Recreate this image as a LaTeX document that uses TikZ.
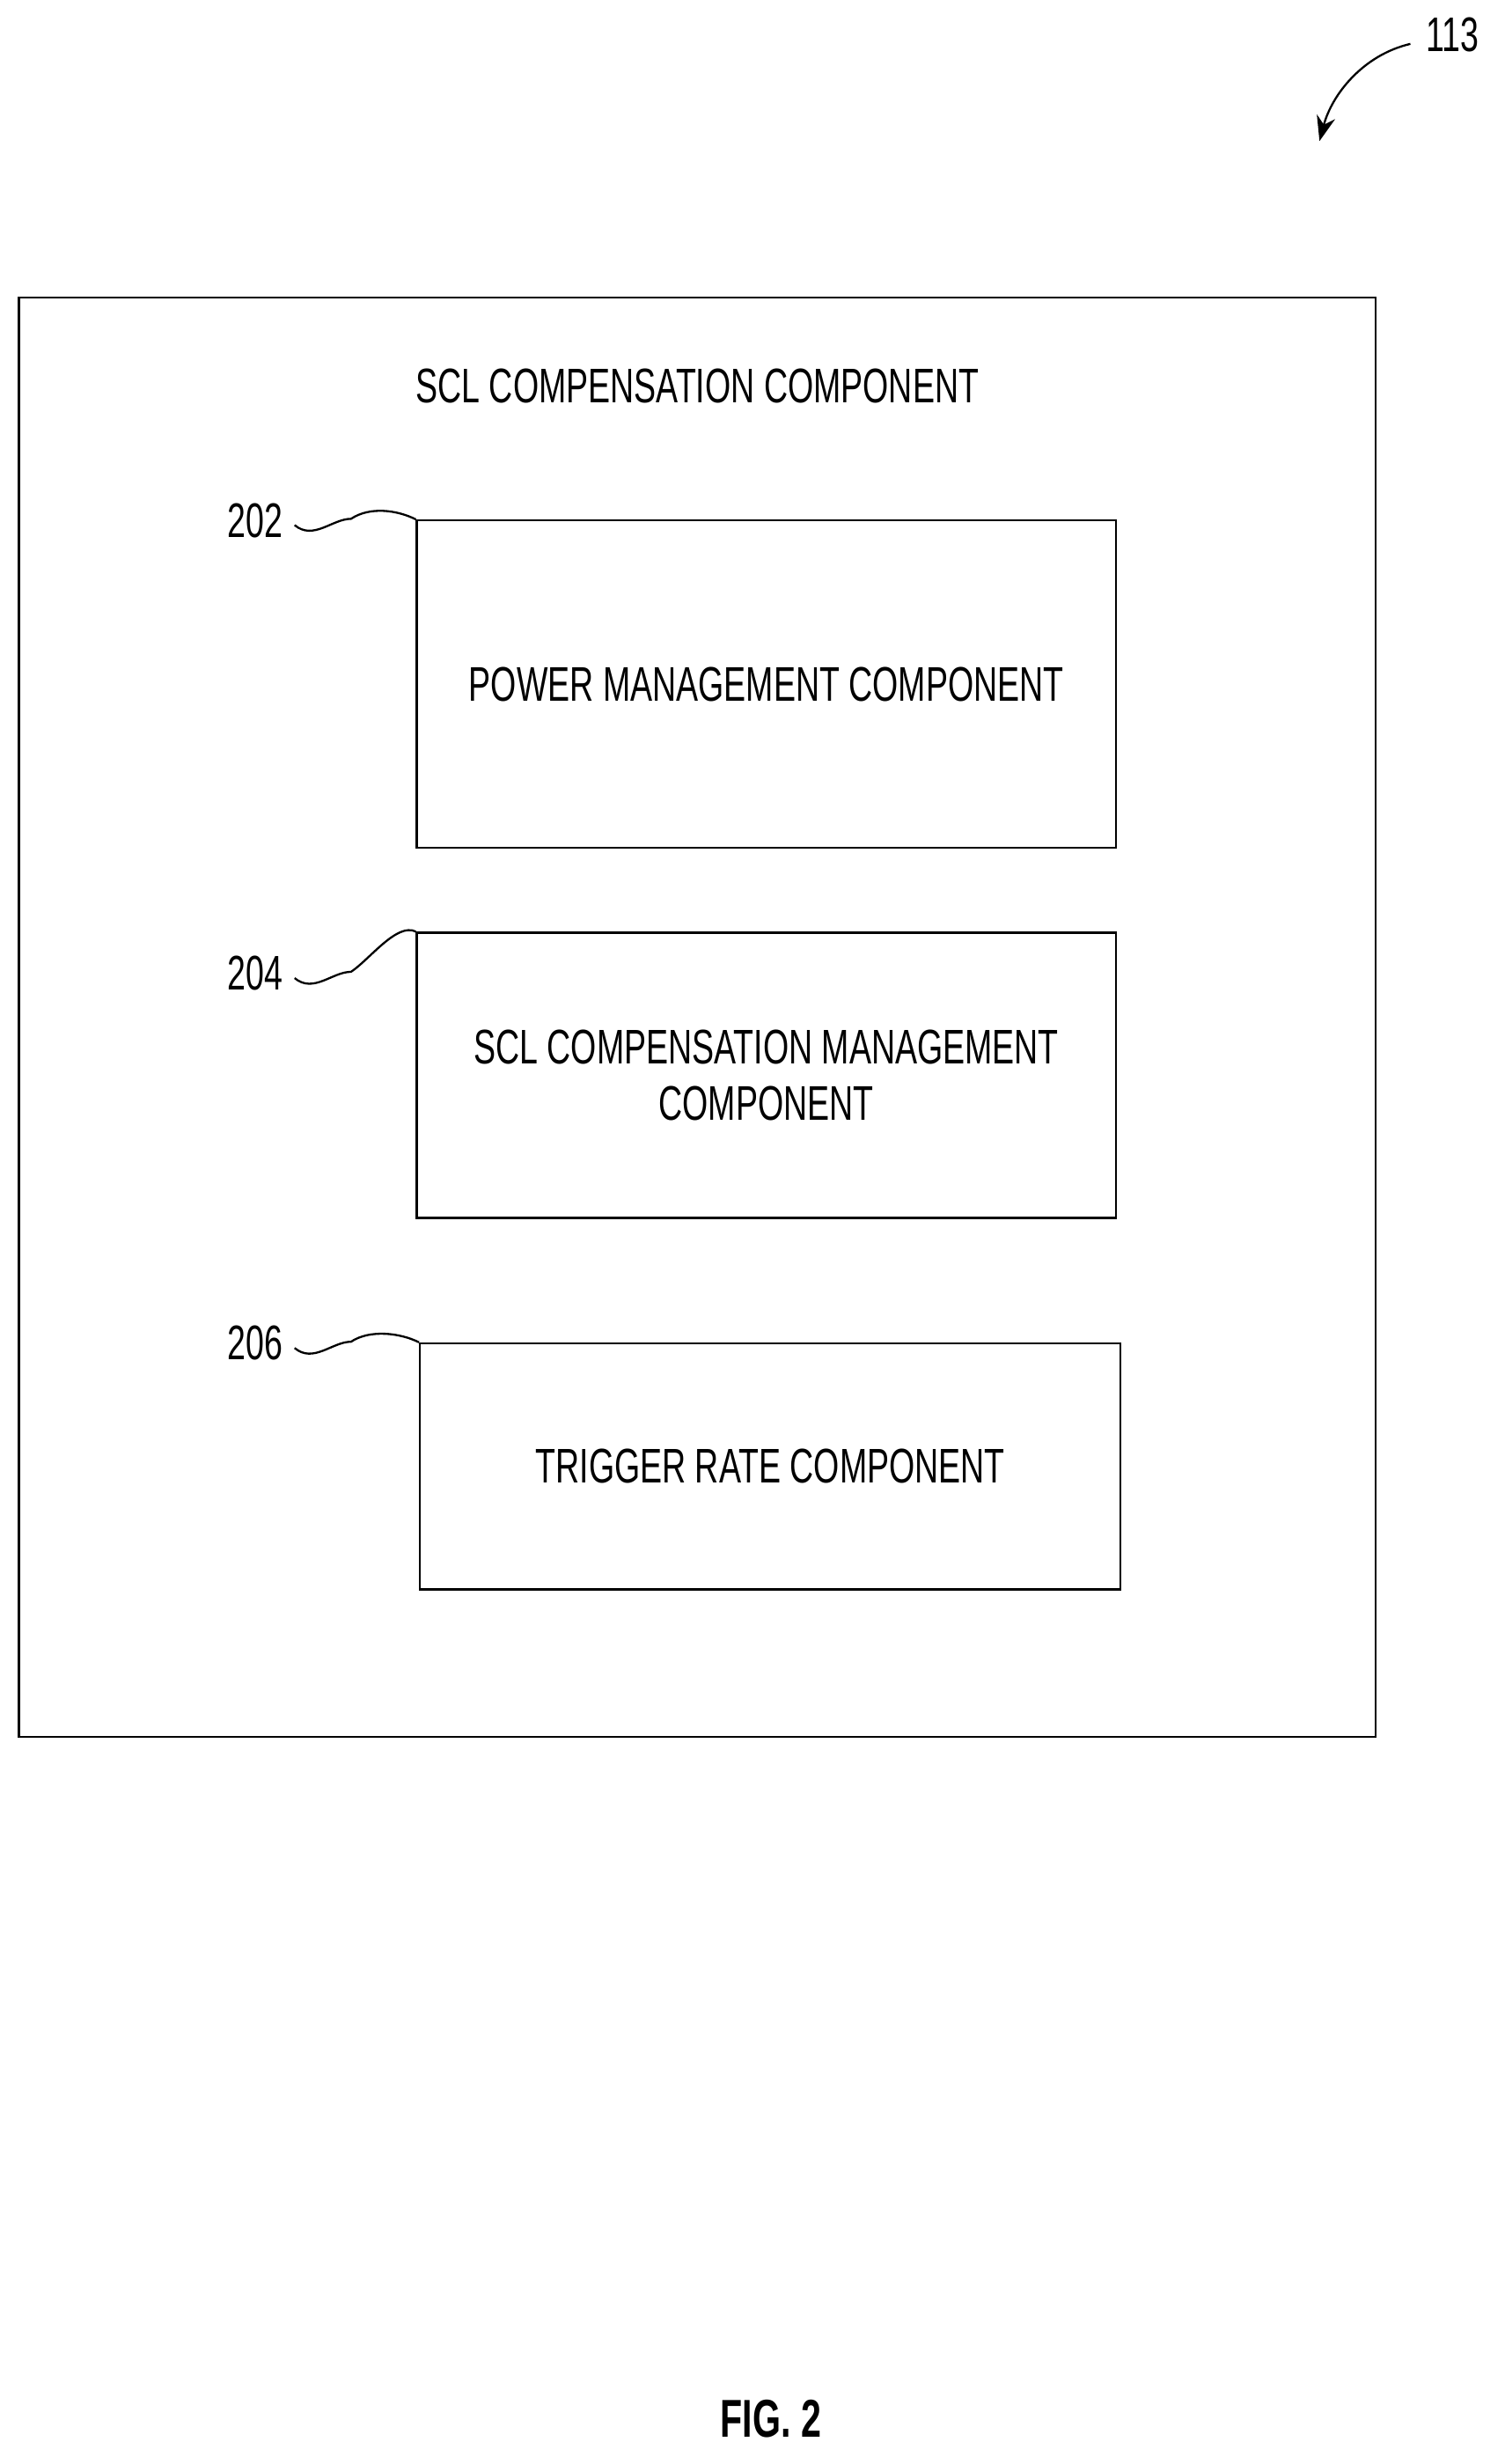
\documentclass[tikz,border=0pt]{standalone}
\usetikzlibrary{arrows.meta}
\usepackage{fontspec}
\setmainfont{Liberation Sans}[FakeStretch=0.68]
\begin{document}
\begin{tikzpicture}[x=1pt,y=-1pt,
  comp/.style={draw,line width=1.3pt,inner sep=0pt},
  lbl/.style={font=\fontsize{31}{36}\selectfont},
  sq/.style={line width=1.3pt}]
\useasboundingbox (0,0) rectangle (960,1572);
\node[comp,minimum width=866pt,minimum height=918pt] (outer) at (445,649) {};
\node[lbl] (title) at (445,246) {SCL COMPENSATION COMPONENT};
\node[comp,minimum width=446pt,minimum height=209pt] (b202) at (489,436.5) {};
\node[lbl] at (b202.center) {POWER MANAGEMENT COMPONENT};
\node[comp,minimum width=446pt,minimum height=182pt] (b204) at (489,686) {};
\node[lbl,align=center] at (b204.center) {SCL COMPENSATION MANAGEMENT\\COMPONENT};
\node[comp,minimum width=447pt,minimum height=157pt] (b206) at (491.5,935.5) {};
\node[lbl] at (b206.center) {TRIGGER RATE COMPONENT};
\foreach \n/\y/\b in {202/332/b202,204/621/b204,206/857/b206}{
  \node[lbl,anchor=east] (l\n) at (184,\y) {\n};
  \draw[sq] (l\n.east) ++(4,3) .. controls +(12,10) and +(-12,0) .. ++(36,-4)
     .. controls +(12,-8) and +(-12,-6) .. (\b.north west);
}
\node[lbl] (n113) at (927,22) {113};
\coordinate (a1) at (900,28);
\coordinate (a2) at (842,90);
\draw[sq,-{Stealth[length=16pt,width=12pt]}] (a1) .. controls (870,35) and (850,60) .. (a2);
\node[font=\bfseries\fontsize{34}{40}\selectfont] (fig) at (492,1543) {FIG. 2};
\end{tikzpicture}
\end{document}
